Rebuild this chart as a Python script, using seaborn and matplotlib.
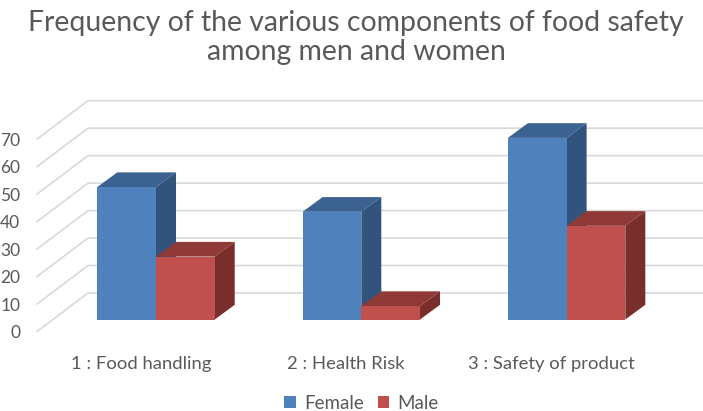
import matplotlib
matplotlib.use("Agg")
import matplotlib.pyplot as plt
from matplotlib.patches import Patch, Polygon
from matplotlib.transforms import ScaledTranslation
import pandas as pd
import seaborn as sns

# Data
categories = ["1 : Food handling", "2 : Health Risk", "3 : Safety of product"]
female = [48.2, 39.2, 66.1]
male = [22.9, 4.9, 34.1]
series_names = ["Female", "Male"]
y_ticks = [0, 10, 20, 30, 40, 50, 60, 70]

W, H = 703, 411
DPI = 100
FONT = "Lato"
TEXT = "#595959"
GRID = "#D9D9D9"
FRONT = {"Female": "#4F81BD", "Male": "#C0504D"}
TOP = {"Female": "#3B6291", "Male": "#8F3A37"}
SIDE = {"Female": "#32547C", "Male": "#7A2E2C"}

sns.set_theme(style="white")
plt.rcParams["font.family"] = [FONT, "DejaVu Sans"]

df = pd.DataFrame({
    "component": categories * 2,
    "frequency": female + male,
    "sex": [series_names[0]] * 3 + [series_names[1]] * 3,
})

fig = plt.figure(figsize=(W / DPI, H / DPI), dpi=DPI)
ax_left, ax_right, ax_top, ax_bottom = 37, 703, 99.7, 319.5
ax = fig.add_axes([ax_left / W, (H - ax_bottom) / H, (ax_right - ax_left) / W, (ax_bottom - ax_top) / H])

sns.barplot(data=df, x="component", y="frequency", hue="sex", hue_order=series_names,
            palette=FRONT, width=0.572, gap=0, saturation=1, legend=False, ax=ax, zorder=3,
            linewidth=0, edgecolor="none")

# 205.3 px between groups, group 1 centred at x=156 px
px_x = 1 / 205.3
x0 = -(156 - ax_left) * px_x
ax.set_xlim(x0, x0 + (ax_right - ax_left) * px_x)
ax.set_ylim(0, 80)
px_y = 80 / (ax_bottom - ax_top)

# Wall and floor gridlines
wall_x = x0 + 51 * px_x
for t in y_ticks:
    ax.plot([x0, wall_x, x0 + (ax_right - ax_left) * px_x],
            [t - 12 * px_y, t + 26.5 * px_y, t + 26.5 * px_y],
            color=GRID, lw=1.2, clip_on=False, zorder=1, solid_joinstyle="miter")

# 3D faces derived from each drawn bar
dx, dy = 20 * px_x, 14.7 * px_y
for container, name in zip(ax.containers, series_names):
    for bar in container:
        x, w, h = bar.get_x(), bar.get_width(), bar.get_height()
        ax.add_patch(Polygon([(x, h), (x + w, h), (x + w + dx, h + dy), (x + dx, h + dy)],
                             closed=True, fc=TOP[name], ec="none", zorder=3, clip_on=False))
        ax.add_patch(Polygon([(x + w, 0), (x + w + dx, dy), (x + w + dx, h + dy), (x + w, h)],
                             closed=True, fc=SIDE[name], ec="none", zorder=3, clip_on=False))
        bar.set_zorder(3.5)

# Axis labels
sns.despine(ax=ax, left=True, bottom=True, top=True, right=True)
ax.set_xlabel("")
ax.set_ylabel("")
ax.set_yticks(y_ticks)
ax.tick_params(axis="y", length=0, pad=12, labelsize=12.5, labelcolor=TEXT)
ax.tick_params(axis="x", length=0, pad=26, labelsize=13.3, labelcolor=TEXT)
for lab in ax.get_yticklabels():
    lab.set_transform(lab.get_transform() + ScaledTranslation(0, -12 / DPI, fig.dpi_scale_trans))
for lab in ax.get_xticklabels():
    lab.set_transform(lab.get_transform() + ScaledTranslation(-15 / DPI, 0, fig.dpi_scale_trans))

fig.suptitle("Frequency of the various components of food safety\namong men and women",
             x=356 / W, y=1 - 37.5 / H, va="center", ha="center", fontsize=20.4, color=TEXT, linespacing=1.15)

handles = [Patch(fc=FRONT[n], ec="none", label=n) for n in series_names]
fig.legend(handles=handles, loc="center", bbox_to_anchor=(361.5 / W, 1 - 403 / H), ncol=2, frameon=False,
           fontsize=13.5, labelcolor=TEXT, handlelength=0.6, handleheight=0.6,
           handletextpad=0.45, columnspacing=0.74, borderpad=0)

fig.savefig("out.png", dpi=DPI, facecolor="white")
